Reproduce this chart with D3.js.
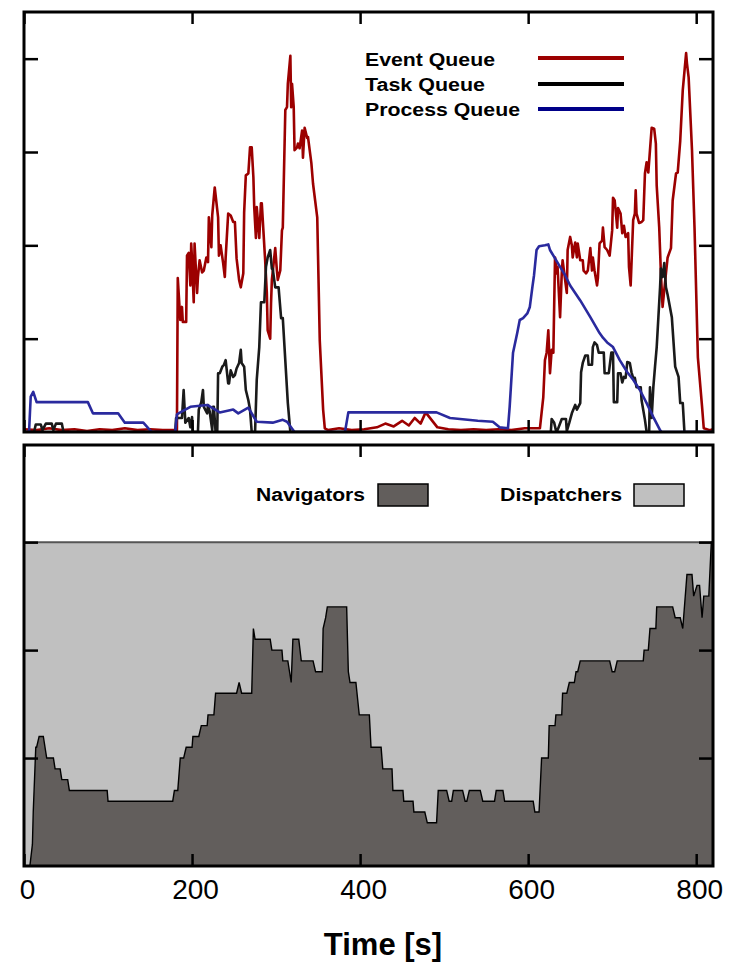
<!DOCTYPE html>
<html><head><meta charset="utf-8">
<script src="https://cdn.jsdelivr.net/npm/d3@7"></script>
<style>body{margin:0;background:#fff} svg{display:block}</style>
</head><body>
<script>
// ---- data ----
const timeTicks = [0, 200, 400, 600, 800];
const queueTicks = [100, 200, 300, 400];
const nodeTicks = [10, 20, 30];
const totalNodes = 30;

const eventQueue = [
 [0,3],[15,2],[30,4],[45,2],[60,3],[75,1],[90,3],[105,2],[120,4],[135,2],[150,3],[165,2],[182,2],
 [183,165],[186,120],[188,134],[189,118],[193,118],[194,189],[196,192],[198,157],[199,202],[200,184],[202,139],[203,202],[206,149],[207,166],[209,184],[212,171],[214,173],[217,187],[219,182],[220,230],[223,198],[224,232],[227,262],[231,230],[232,189],[234,200],[237,181],[239,166],[240,187],[243,234],[246,232],[249,225],[251,225],[253,186],[256,163],[258,155],[261,170],[262,235],[264,275],[267,277],[269,305],[271,305],[273,273],[274,241],[276,208],[277,241],[280,208],[282,245],[283,245],[287,184],[289,149],[290,109],[293,100],[294,138],[295,163],[299,197],[301,173],[302,163],[305,173],[307,216],[308,219],[311,345],[313,348],[314,373],[317,403],[318,348],[319,373],[321,348],[322,302],[325,305],[326,309],[328,304],[331,323],[332,294],[334,326],[337,315],[338,316],[342,288],[344,266],[349,230],[352,98],[356,24],[358,4],[362,2],
 [375,4],[390,2],[405,3],[420,5],[430,9],[440,6],[450,12],[458,7],[465,15],[472,9],[478,21],[485,13],[492,5],[505,3],[520,2],[535,3],[550,2],[565,3],[580,2],[596,4],[614,4],
 [618,37],[620,77],[622,85],[624,109],[626,63],[628,88],[630,85],[632,187],[634,170],[635,177],[638,123],[640,170],[641,184],[644,163],[646,149],[647,195],[650,209],[652,200],[653,187],[656,203],[658,187],[659,202],[662,184],[665,184],[666,173],[669,170],[671,173],[674,197],[676,173],[677,187],[679,173],[682,157],[683,165],[685,202],[688,205],[689,219],[691,198],[694,195],[697,189],[700,216],[701,251],[703,248],[706,219],[707,240],[710,234],[712,213],[714,221],[716,209],[719,213],[720,177],[722,157],[725,227],[727,234],[728,259],[729,234],[732,224],[735,225],[737,227],[739,277],[741,289],[743,278],[745,302],[747,326],[750,325],[752,309],[753,264],[756,219],[758,170],[760,134],[762,152],[764,170],[766,187],[770,197],[772,248],[776,277],[778,278],[781,312],[784,366],[788,406],[789,395],[791,380],[795,302],[798,219],[802,80],[807,27],[809,4],[816,2],[820,3]
];

const taskQueue = [
 [0,0],[12,0],[14,8],[20,8],[22,2],[26,9],[33,9],[35,2],[38,9],[45,9],[47,0],
 [180,0],[181,15],[188,15],[190,45],[192,10],[196,15],[198,5],[200,16],[201,0],[207,0],[208,24],[211,32],[213,45],[214,27],[218,20],[219,29],[221,22],[224,2],[225,27],[226,27],[228,0],
 [230,0],[231,63],[233,63],[236,70],[238,72],[240,77],[243,52],[244,52],[246,66],[249,59],[251,61],[253,68],[256,74],[258,88],[259,74],[262,70],[264,45],[267,34],[269,24],[271,0],[275,0],
 [277,56],[280,91],[282,139],[286,139],[288,177],[290,187],[293,195],[295,175],[296,175],[299,155],[303,155],[306,122],[308,122],[314,31],[317,0],
 [627,0],[628,14],[631,10],[633,2],[635,2],[640,14],[645,14],[646,1],[649,10],[652,20],[656,29],[658,24],[662,31],[663,64],[665,74],[668,82],[671,82],[672,72],[676,72],[677,91],[679,96],[682,93],[684,85],[690,85],[691,63],[696,63],[699,85],[701,85],[702,32],[706,32],[707,63],[710,63],[712,53],[714,59],[716,58],[718,75],[721,74],[723,64],[725,58],[727,58],[729,48],[734,48],[735,34],[739,13],[741,0],[744,0],[745,48],[747,15],[749,48],[751,70],[753,91],[755,123],[757,155],[758,175],[760,166],[762,181],[764,155],[766,147],[771,123],[775,70],[779,59],[781,31],[784,31],[786,0],[820,0]
];

const processQueue = [
 [0,0],[6,0],[8,38],[11,43],[15,32],[76,32],[82,20],[112,20],[120,10],[142,10],[152,0],[180,0],[182,19],[186,21],[198,27],[218,29],[233,21],[249,24],[255,20],[267,26],[277,11],[296,10],[308,13],[313,11],[322,0],
 [382,0],[386,21],[491,21],[507,15],[540,12],[558,11],[566,5],[576,4],[578,27],[582,85],[587,106],[590,120],[594,122],[599,127],[602,134],[605,155],[607,168],[610,195],[613,199],[620,200],[624,201],[626,195],[632,186],[638,177],[644,168],[650,157],[662,141],[674,123],[685,106],[689,101],[694,96],[701,91],[709,77],[718,64],[725,56],[733,45],[741,31],[749,16],[757,2],[759,0],[820,0]
];

const navigators = [
 [0,0],[7,0],[10,2],[11,5],[14,11],[15,11],[18,12],[23,12],[27,10],[35,10],[37,9],[43,9],[45,8],[52,8],[54,7],[99,7],[100,6],[177,6],[179,7],[183,7],[186,10],[190,10],[193,11],[200,11],[201,12],[208,12],[211,13],[218,13],[219,14],[226,14],[228,16],[253,16],[256,17],[259,16],[271,16],[273,22],[275,21],[293,21],[295,20],[307,20],[308,19],[314,19],[318,17],[320,21],[327,21],[330,19],[344,19],[347,18],[355,18],[356,22],[359,23],[361,24],[384,24],[386,18],[388,17],[395,17],[399,14],[411,14],[413,11],[425,11],[427,9],[438,9],[439,7],[451,7],[452,6],[463,6],[464,5],[477,5],[480,4],[491,4],[493,7],[503,7],[506,6],[509,6],[511,7],[522,7],[525,6],[527,6],[530,7],[543,7],[546,6],[560,6],[562,7],[570,7],[572,6],[606,6],[608,5],[613,5],[616,10],[624,10],[625,13],[632,13],[633,14],[640,14],[641,16],[646,16],[649,17],[655,17],[657,18],[659,18],[662,19],[697,19],[700,18],[703,18],[706,19],[737,19],[738,20],[743,20],[745,22],[752,22],[753,24],[772,24],[775,23],[781,23],[784,22],[789,27],[795,27],[797,25],[801,26],[804,26],[807,23],[809,25],[815,25],[818,30],[820,30]
];

const queueSeries = [
 {name: "Event Queue", data: eventQueue, color: "#9c0000"},
 {name: "Task Queue", data: taskQueue, color: "#1a1a1a"},
 {name: "Process Queue", data: processQueue, color: "#2a2a9e"}
];
const legendColors = ["#9c0000", "#000000", "#000088"];

// ---- layout ----
const W = 732, H = 965;
const L = 24, R = 713;
const top1 = 12, bot1 = 432, top2 = 445, bot2 = 866;

const svg = d3.select("body").append("svg").attr("width", W).attr("height", H)
  .style("font-family", "'Liberation Sans', Arial, sans-serif");

const x = d3.scaleLinear().domain([0, 820]).range([L, R]);
const yQ = d3.scaleLinear().domain([0, 450]).range([bot1, top1]);
const yN = d3.scaleLinear().domain([0, 39]).range([bot2, top2]);

const defs = svg.append("defs");
defs.append("clipPath").attr("id", "c1").append("rect")
  .attr("x", L).attr("y", top1).attr("width", R - L).attr("height", bot1 - top1);
defs.append("clipPath").attr("id", "c2").append("rect")
  .attr("x", L).attr("y", top2).attr("width", R - L).attr("height", bot2 - top2);

// ---- top panel lines ----
const g1 = svg.append("g").attr("clip-path", "url(#c1)");
const line = d3.line().x(d => x(d[0])).y(d => yQ(d[1]));
queueSeries.forEach(s => {
  g1.append("path").attr("d", line(s.data)).attr("fill", "none")
    .attr("stroke", s.color).attr("stroke-width", 2.6).attr("stroke-linejoin", "round");
});

// ---- bottom panel areas ----
const g2 = svg.append("g").attr("clip-path", "url(#c2)");
const dispArea = d3.area().x(d => x(d[0])).y0(d => yN(d[1])).y1(() => yN(totalNodes));
g2.append("path").attr("d", dispArea(navigators)).attr("fill", "#c0c0c0");
g2.append("path").attr("d", d3.line().x(d => x(d[0])).y(() => yN(totalNodes))(navigators))
  .attr("stroke", "#555").attr("stroke-width", 2).attr("fill", "none");
const navArea = d3.area().x(d => x(d[0])).y0(yN(0)).y1(d => yN(d[1]));
g2.append("path").attr("d", navArea(navigators)).attr("fill", "#625e5c");
g2.append("path").attr("d", d3.line().x(d => x(d[0])).y(d => yN(d[1]))(navigators))
  .attr("fill", "none").attr("stroke", "#000").attr("stroke-width", 1.4);

// ---- axes / ticks (inward, all sides) ----
function ticks(yScale, yTickVals, t, b) {
  const tl = 12, yl = 14;
  const ax = [
    svg.append("g").attr("transform", `translate(0,${b})`).call(d3.axisBottom(x).tickValues(timeTicks).tickSize(-tl).tickFormat("")),
    svg.append("g").attr("transform", `translate(0,${t})`).call(d3.axisTop(x).tickValues(timeTicks).tickSize(-tl).tickFormat("")),
    svg.append("g").attr("transform", `translate(${L},0)`).call(d3.axisLeft(yScale).tickValues(yTickVals).tickSize(-yl).tickFormat("")),
    svg.append("g").attr("transform", `translate(${R},0)`).call(d3.axisRight(yScale).tickValues(yTickVals).tickSize(-yl).tickFormat(""))
  ];
  ax.forEach(a => { a.select(".domain").remove(); a.selectAll("line").attr("stroke", "#000").attr("stroke-width", 2.5); });
  svg.append("rect").attr("x", L).attr("y", t).attr("width", R - L).attr("height", b - t)
    .attr("fill", "none").attr("stroke", "#000").attr("stroke-width", 3);
}
ticks(yQ, queueTicks, top1, bot1);
ticks(yN, nodeTicks, top2, bot2);

// ---- x tick labels ----
const lab = svg.append("g").attr("transform", `translate(3,${bot2})`)
  .call(d3.axisBottom(x).tickValues(timeTicks).tickSize(0).tickPadding(13).tickFormat(d3.format("d")));
lab.select(".domain").remove();
lab.selectAll("text").attr("font-size", 28).attr("font-family", "'Liberation Sans', Arial, sans-serif").attr("fill", "#000")
  .attr("dy", "0.71em");

svg.append("text").attr("x", 383).attr("y", 955).attr("text-anchor", "middle")
  .attr("font-size", 31).attr("font-weight", "bold").text("Time [s]");

// ---- legends ----
const legTop = [
  {y: 58, ty: 66, w: 130},
  {y: 84, ty: 91, w: 120},
  {y: 109, ty: 116, w: 155}
];
queueSeries.forEach((s, i) => {
  svg.append("text").attr("x", 365).attr("y", legTop[i].ty).attr("font-size", 18).attr("font-weight", "bold")
    .attr("textLength", legTop[i].w).attr("lengthAdjust", "spacingAndGlyphs").text(s.name);
  svg.append("line").attr("x1", 538).attr("x2", 624).attr("y1", legTop[i].y).attr("y2", legTop[i].y)
    .attr("stroke", legendColors[i]).attr("stroke-width", 4);
});

const legBot = [
  {name: "Navigators", tx: 365, w: 109, bx: 378, fill: "#625e5c"},
  {name: "Dispatchers", tx: 622, w: 122, bx: 634, fill: "#c0c0c0"}
];
legBot.forEach(l => {
  svg.append("text").attr("x", l.tx - l.w).attr("y", 501).attr("font-size", 18).attr("font-weight", "bold")
    .attr("textLength", l.w).attr("lengthAdjust", "spacingAndGlyphs").text(l.name);
  svg.append("rect").attr("x", l.bx).attr("y", 484).attr("width", 50).attr("height", 22)
    .attr("fill", l.fill).attr("stroke", "#000").attr("stroke-width", 1.5);
});
</script>
</body></html>
